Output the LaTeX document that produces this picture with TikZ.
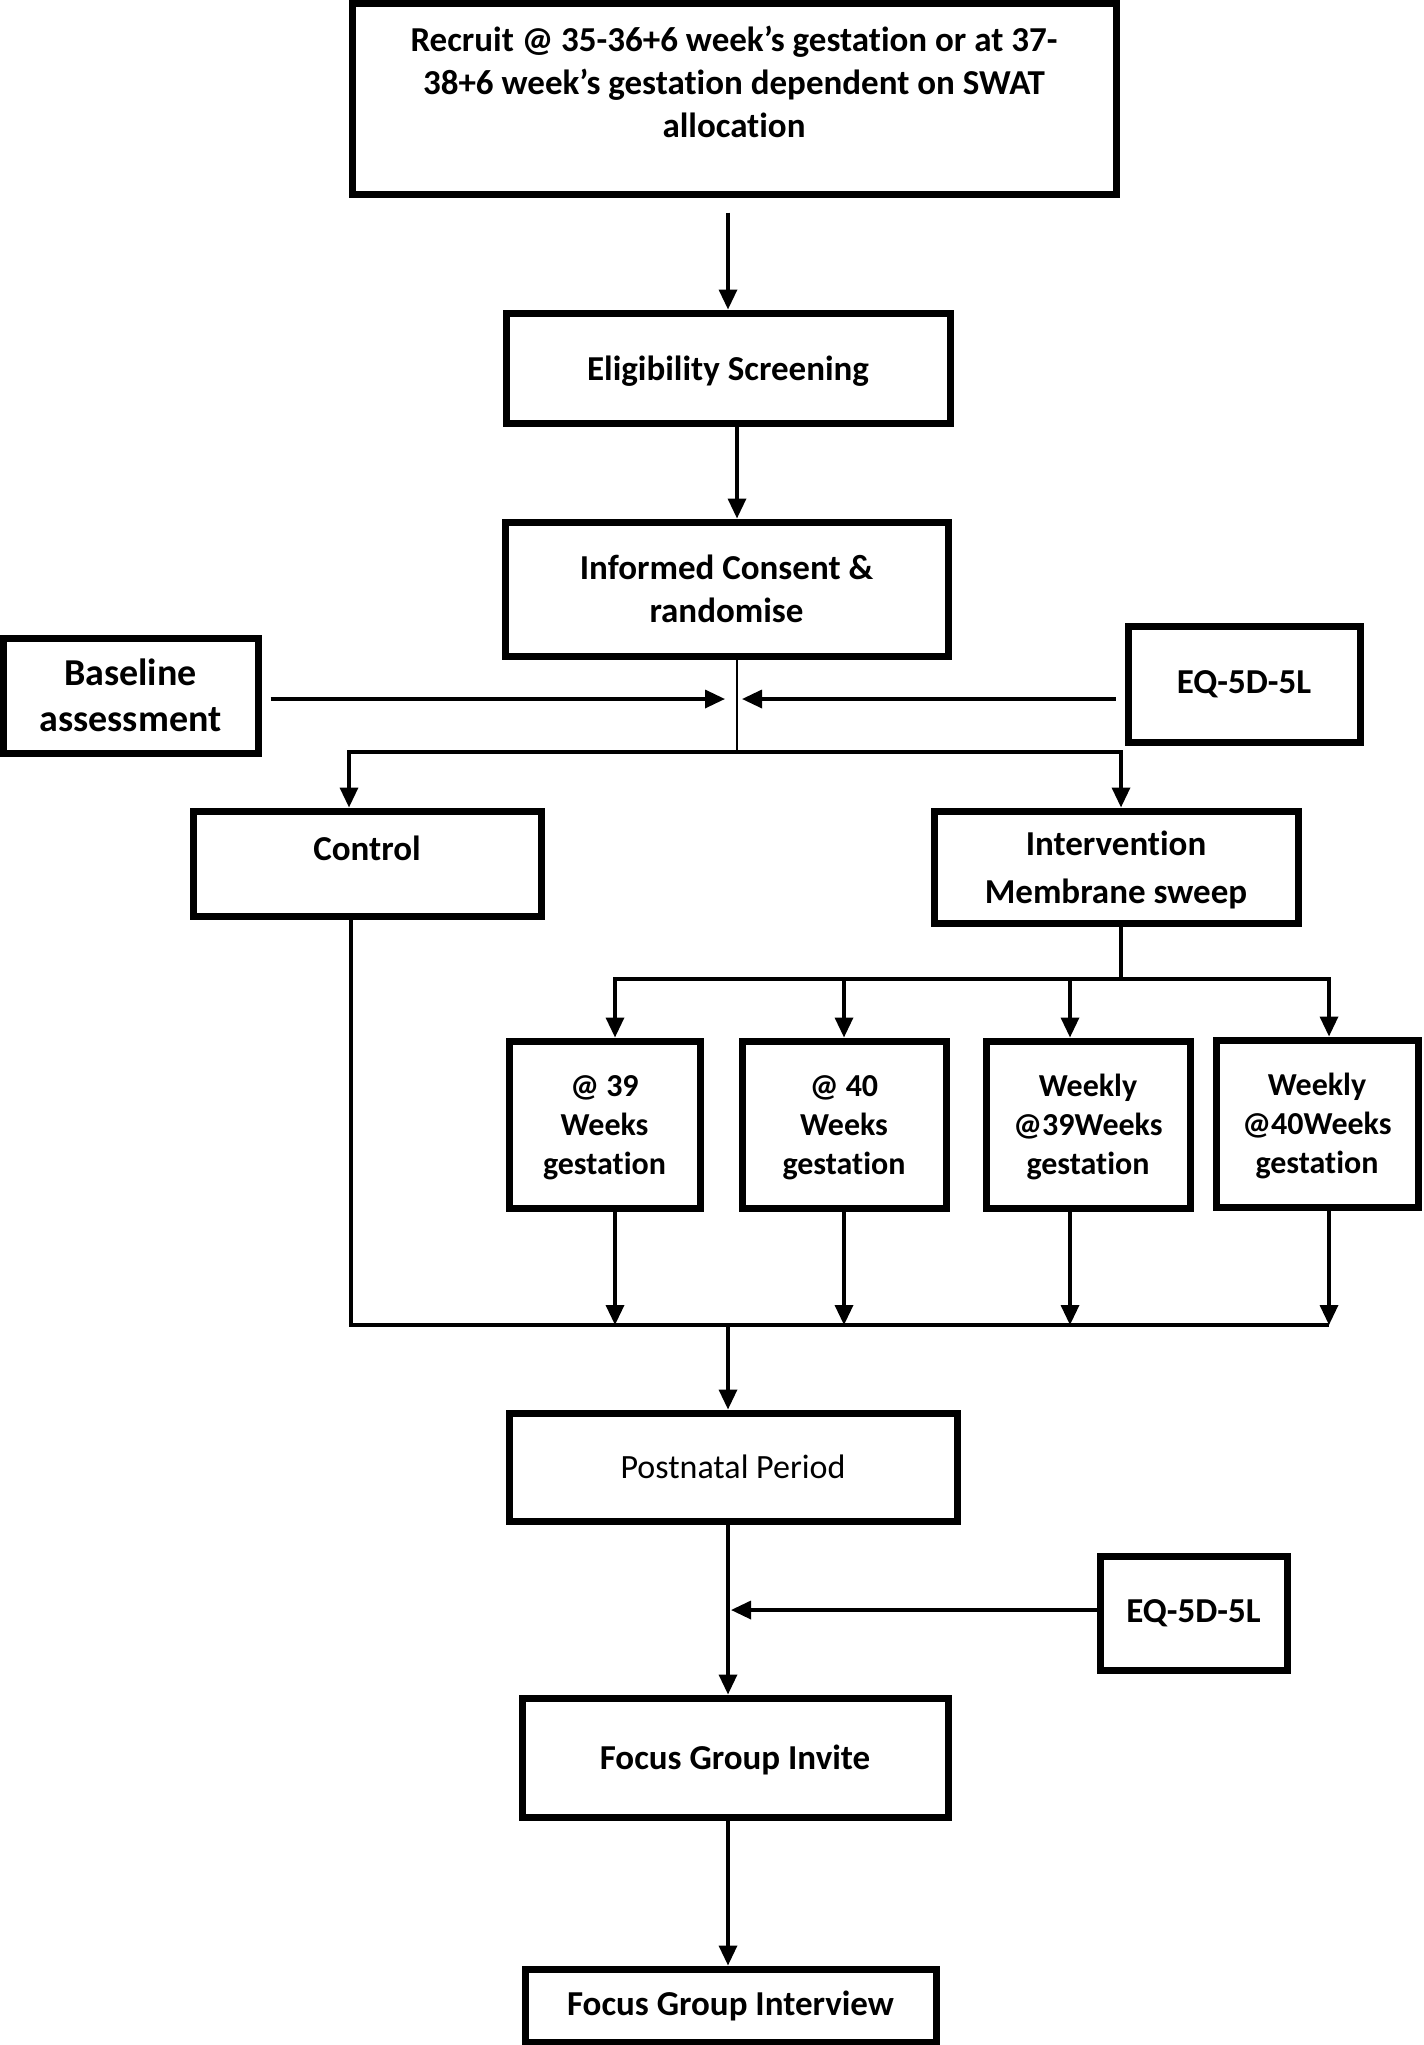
\documentclass[tikz,border=0pt]{standalone}
\usepackage{fontspec}
\setmainfont{Carlito}[Ligatures=NoCommon]
\usetikzlibrary{arrows.meta}
\begin{document}
\begin{tikzpicture}[x=0.5pt,y=-0.5pt,
  bx/.style={draw, line width=3.5pt, inner sep=0pt, align=center,
    font=\bfseries\fontsize{17.5}{21.5}\selectfont},
  smallbx/.style={bx, font=\bfseries\fontsize{16}{19.5}\selectfont,
    minimum height=83.5pt, text depth=-2pt},
  arr/.style={line width=1.7pt, -{Triangle[length=10pt,width=9pt]}},
  ln/.style={line width=1.7pt},
  thinln/.style={line width=0.7pt}]
\useasboundingbox (0,0) rectangle (1424,2045);

% boxes
\node[bx, minimum width=382pt, minimum height=95.5pt, text depth=16.5pt] (rec) at (734,98.5)
  {Recruit @ 35-36+6 week’s gestation or at 37-\\38+6 week’s gestation dependent on SWAT\\allocation};
\node[bx, minimum width=222pt, minimum height=55pt, text depth=-1pt] (elig) at (728,368) {Eligibility Screening};
\node[bx, minimum width=221.5pt, minimum height=67pt] (inf) at (726.5,589) {Informed Consent \&\\randomise};
\node[bx, minimum width=127.5pt, minimum height=57.5pt, font=\bfseries\fontsize{19}{23}\selectfont] (base) at (130.5,695.5) {Baseline\\assessment};
\node[bx, minimum width=116pt, minimum height=58pt] (eqa) at (1244,684) {EQ-5D-5L};
\node[bx, minimum width=174pt, minimum height=52.5pt, text depth=15.5pt] (ctl) at (367,863.5) {Control};
\node[bx, minimum width=182pt, minimum height=56pt, text depth=-4pt, font=\bfseries\fontsize{17.5}{24}\selectfont] (int) at (1116,867) {Intervention\\Membrane sweep};

\node[smallbx, minimum width=95.5pt] (ba) at (604.5,1124.5) {@ 39\\Weeks\\gestation};
\node[smallbx, minimum width=102pt] (bb) at (844,1124.5) {@ 40\\Weeks\\gestation};
\node[smallbx, minimum width=102pt] (bc) at (1088,1124.5) {Weekly\\@39Weeks\\gestation};
\node[smallbx, minimum width=101pt] (bd) at (1317,1123.5) {Weekly\\@40Weeks\\gestation};

\node[bx, minimum width=224pt, minimum height=54pt, font=\fontsize{17}{21}\selectfont] (post) at (733,1467) {Postnatal Period};
\node[bx, minimum width=93.5pt, minimum height=57pt] (eqb) at (1193.5,1613) {EQ-5D-5L};
\node[bx, minimum width=213pt, minimum height=59.5pt, text depth=-1pt] (fgi) at (735,1757.5) {Focus Group Invite};
\node[bx, minimum width=205.5pt, minimum height=36.5pt] (fgint) at (730.5,2005.5) {Focus Group Interview};

% junction coordinates
\coordinate (j1) at (737,752);
\coordinate (bA) at (725,699);
\coordinate (eA) at (742,699);
\coordinate (j2) at (1121,979);
\coordinate (j3) at (728,1325);
\coordinate (e2A) at (731,1610);

% connectors
\draw[arr] ([yshift=-7.5pt]rec.south -| elig.north) -- (elig.north);
\draw[arr] (elig.south -| j1) -- (inf.north -| j1);
\draw[thinln] (inf.south -| j1) -- (j1);
\draw[arr] ([xshift=4.5pt]base.east |- bA) -- (bA);
\draw[arr] ([xshift=-4.5pt]eqa.west |- eA) -- (eA);
\draw[arr] (j1) -| ([xshift=-9pt]ctl.north);
\draw[arr] (j1) -| ([xshift=2.5pt]int.north);

\draw[ln] ([xshift=2.5pt]int.south) -- (j2);
\draw[arr] (j2) -| ([xshift=5.25pt]ba.north);
\draw[arr] (j2) -| (bb.north);
\draw[arr] (j2) -| ([xshift=-9pt]bc.north);
\draw[arr] (j2) -| ([xshift=6pt]bd.north);

\draw[ln] ([xshift=-8pt]ctl.south) |- ([xshift=6pt]bd.south |- j3);
\draw[arr] ([xshift=5.25pt]ba.south) -- ([xshift=5.25pt]ba.south |- j3);
\draw[arr] (bb.south) -- (bb.south |- j3);
\draw[arr] ([xshift=-9pt]bc.south) -- ([xshift=-9pt]bc.south |- j3);
\draw[arr] ([xshift=6pt]bd.south) -- ([xshift=6pt]bd.south |- j3);

\draw[arr] (j3) -- (j3 |- post.north);
\draw[arr] (post.south -| j3) -- (fgi.north -| j3);
\draw[arr] (eqb.west |- e2A) -- (e2A);
\draw[arr] (fgi.south -| j3) -- (fgint.north -| j3);
\end{tikzpicture}
\end{document}
